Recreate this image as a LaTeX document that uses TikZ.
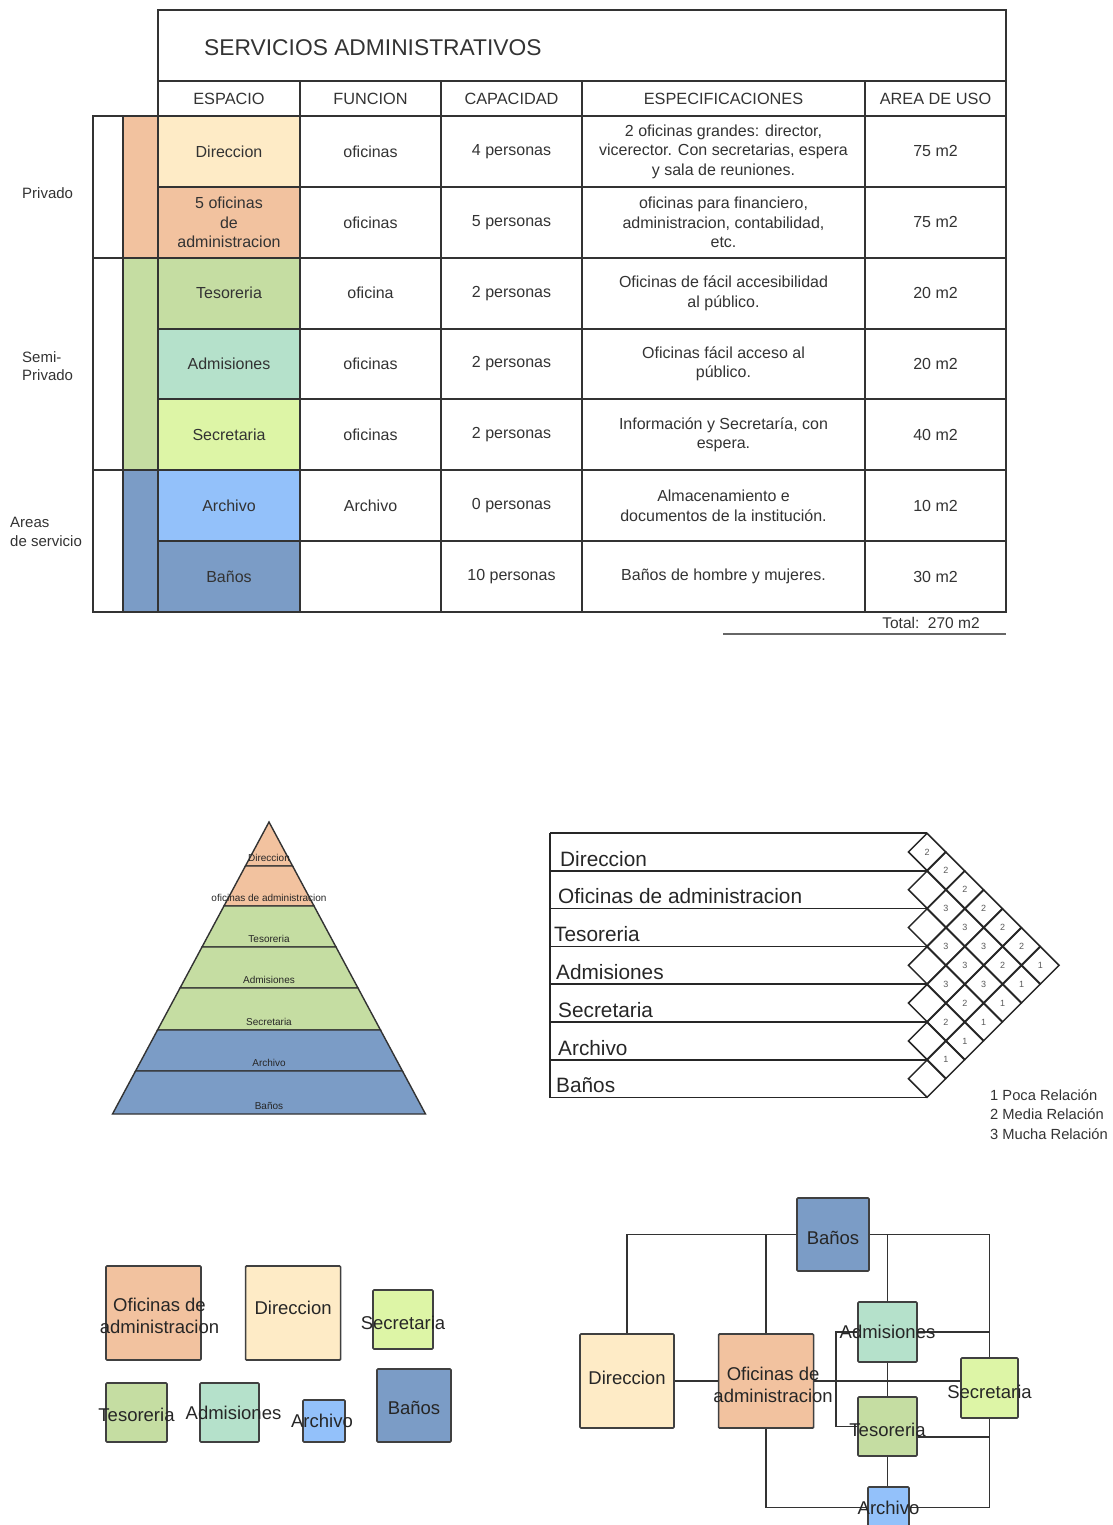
\documentclass[tikz,border=0pt]{standalone}
\usepackage{fontspec}
\setmainfont{Liberation Sans}
\usetikzlibrary{positioning,shapes.geometric}

\definecolor{dircol}{HTML}{FEEBC6}
\definecolor{oficol}{HTML}{F2C29F}
\definecolor{tescol}{HTML}{C5DDA2}
\definecolor{admcol}{HTML}{B5E1CB}
\definecolor{seccol}{HTML}{DDF5A6}
\definecolor{arccol}{HTML}{93C1FA}
\definecolor{bancol}{HTML}{7B9CC6}
\definecolor{ink}{HTML}{333333}

\tikzstyle{tline} = [draw=ink, line width=1.9pt]
\tikzstyle{cell} = [align=center, text=ink, inner sep=0pt, font=\fontsize{16}{19.5}\selectfont]
\tikzstyle{room} = [draw=black!75, line width=1.6pt, rounded corners=1pt, inner sep=0pt]
\tikzstyle{roomtext} = [align=center, text=black!85, inner sep=0pt, font=\fontsize{18.5}{22}\selectfont]
\tikzstyle{link} = [draw=black!80, line width=1.8pt]

\begin{document}
\begin{tikzpicture}[x=1pt, y=-1pt]
    % Define styles for the smaller parts
    \tikzstyle{spec} = [cell, font=\fontsize{16}{19.5}\selectfont]
    \tikzstyle{side} = [anchor=west, align=left, text=ink, inner sep=0pt, font=\fontsize{15}{18.5}\selectfont]
    \tikzstyle{pyrtext} = [text=black!85, inner sep=0pt, font=\fontsize{10}{12}\selectfont]
    \tikzstyle{relrow} = [anchor=base west, text=black!85, inner sep=0pt, font=\fontsize{20.8}{24}\selectfont]
    \tikzstyle{relcell} = [diamond, aspect=1, draw=black!85, line width=1.5pt, minimum width=37.8pt, minimum height=37.8pt, inner sep=0pt]
    \tikzstyle{relnum} = [text=black!65, inner sep=0pt, font=\fontsize{9}{10}\selectfont]
    \tikzstyle{legend} = [anchor=west, text=ink, inner sep=0pt, font=\fontsize{14.7}{16}\selectfont]

    \useasboundingbox (0,0) rectangle (1112,1525);

    % Table fills
    \foreach \c [count=\i from 0] in {dircol,oficol,tescol,admcol,seccol,arccol,bancol}
        \fill[\c] (158,116+\i*70.857) rectangle (300,116+\i*70.857+70.857);
    \fill[oficol] (123,116) rectangle (158,257.7);
    \fill[tescol] (123,257.7) rectangle (158,470.3);
    \fill[bancol] (123,470.3) rectangle (158,612);

    % Table lines
    \draw[tline] (158,10) rectangle (1006,612);
    \draw[tline] (158,81) -- (1006,81);
    \foreach \x in {300,441,582,865} \draw[tline] (\x,81) -- (\x,612);
    \foreach \i in {0,...,6} \draw[tline] (158,116+\i*70.857) -- (1006,116+\i*70.857);
    \draw[tline] (93,116) rectangle (158,612);
    \draw[tline] (123,116) -- (123,612);
    \draw[tline] (93,257.7) -- (158,257.7);
    \draw[tline] (93,470.3) -- (158,470.3);
    \draw[draw=black!60, line width=2.2pt] (723,634) -- (1006,634);

    % Place nodes
    \node[anchor=west, text=ink, inner sep=0pt, font=\fontsize{22.8}{26}\selectfont] (title) at (204,48) {SERVICIOS ADMINISTRATIVOS};
    \node[cell, font=\fontsize{16.3}{19.5}\selectfont] (hesp) at (229,99) {ESPACIO};
    \node[cell, font=\fontsize{16.3}{19.5}\selectfont] (hfun) at (370.5,99) {FUNCION};
    \node[cell, font=\fontsize{16.3}{19.5}\selectfont] (hcap) at (511.5,99) {CAPACIDAD};
    \node[cell, font=\fontsize{16.3}{19.5}\selectfont] (hspec) at (723.5,99) {ESPECIFICACIONES};
    \node[cell, font=\fontsize{16.3}{19.5}\selectfont] (harea) at (935.5,99) {AREA DE USO};

    \foreach \esp/\fun/\cap/\spec/\area [count=\i from 0] in {
        Direccion/oficinas/4 personas/{2 oficinas grandes: director,\\vicerector. Con secretarias, espera\\y sala de reuniones.}/75 m2,
        {5 oficinas\\de\\administracion}/oficinas/5 personas/{oficinas para financiero,\\administracion, contabilidad,\\etc.}/75 m2,
        Tesoreria/oficina/2 personas/{Oficinas de fácil accesibilidad\\al público.}/20 m2,
        Admisiones/oficinas/2 personas/{Oficinas fácil acceso al\\público.}/20 m2,
        Secretaria/oficinas/2 personas/{Información y Secretaría, con\\espera.}/40 m2,
        Archivo/Archivo/0 personas/{Almacenamiento e\\documentos de la institución.}/10 m2,
        Baños//10 personas/{Baños de hombre y mujeres.}/30 m2}
    {
        \pgfmathsetmacro\ym{116+(\i+0.5)*70.857}
        \node[cell] (esp\i) at (229,\ym) {\esp};
        \node[cell] (fun\i) at (370.5,\ym) {\fun};
        \node[cell] (cap\i) at (511.5,\ym) {\cap};
        \node[spec] (spec\i) at (723.5,\ym) {\spec};
        \node[cell] (area\i) at (935.5,\ym) {\area};
    }
    \node[cell, font=\fontsize{15.5}{17}\selectfont] (total) at (931,623) {Total:\ \ 270 m2};

    \node[side] (priv) at (22,193) {Privado};
    \node[side] (semi) at (22,366) {Semi-\\Privado};
    \node[side] (serv) at (10,532) {Areas\\de servicio};

    % Pyramid
    \foreach \ya/\yb/\c/\lab [count=\i] in {822/866/oficol/Direccion, 866/906/oficol/oficinas de administracion,
        906/947/tescol/Tesoreria, 947/988/tescol/Admisiones, 988/1030/tescol/Secretaria,
        1030/1071/bancol/Archivo, 1071/1114/bancol/Baños}
    {
        \pgfmathsetmacro\wa{(\ya-822)/292*156.5}
        \pgfmathsetmacro\wb{(\yb-822)/292*156.5}
        \filldraw[fill=\c, draw=black!80, line width=1.4pt] (269-\wa,\ya) -- (269+\wa,\ya) -- (269+\wb,\yb) -- (269-\wb,\yb) -- cycle;
        \node[pyrtext] (pyr\i) at (269,\yb-8) {\lab};
    }

    % Relation matrix
    \foreach \j in {0,...,7} \draw[draw=black!85, line width=1.6pt] (550,833+\j*37.8) -- (927,833+\j*37.8);
    \draw[draw=black!85, line width=1.6pt] (550,833) -- (550,1097.6);
    \foreach \lab/\xl [count=\i from 0] in {Direccion/560, Oficinas de administracion/558, Tesoreria/554,
        Admisiones/556, Secretaria/558, Archivo/558, Baños/556}
        \node[relrow] (rel\i) at (\xl,866+\i*37.8) {\lab};
    \foreach \k in {0,...,6} {
        \pgfmathtruncatemacro\n{6-\k}
        \foreach \i in {0,...,\n}
            \node[relcell] (c\k\i) at (927+\k*18.9,851.9+\i*37.8+\k*18.9) {};
    }
    \node[relnum] (n00) at (c00) {2};
    \foreach \k/\vals in {1/{2,3,3,3,2,1}, 2/{2,3,3,2,1}, 3/{2,3,3,1}, 4/{2,2,1}, 5/{2,1}, 6/{1}}
        \foreach \v [count=\i from 0] in \vals
            \node[relnum] (n\k\i) at (c\k\i) {\v};

    \node[legend] (leg1) at (990,1095) {1 Poca Relación};
    \node[legend] (leg2) at (990,1114.5) {2 Media Relación};
    \node[legend] (leg3) at (990,1134) {3 Mucha Relación};

    % Rooms without links
    \node[room, fill=oficol, minimum width=95pt, minimum height=94pt,
        label={[roomtext, xshift=6pt, yshift=-3pt]center:Oficinas de\\administracion}] (bofi) at (153.5,1313) {};
    \node[room, fill=dircol, minimum width=95pt, minimum height=94pt,
        label={[roomtext, yshift=5pt]center:Direccion}] (bdir) [right=43pt of bofi] {};
    \node[room, fill=seccol, minimum width=60pt, minimum height=59pt,
        label={[roomtext, yshift=-3pt]center:Secretaria}] (bsec) at (403,1319.5) {};
    \node[room, fill=tescol, minimum width=61pt, minimum height=59pt,
        label={[roomtext, yshift=-2pt]center:Tesoreria}] (btes) at (136.5,1412.5) {};
    \node[room, fill=admcol, minimum width=59pt, minimum height=59pt,
        label={[roomtext, xshift=4pt]center:Admisiones}] (badm) at (229.5,1412.5) {};
    \node[room, fill=arccol, minimum width=42pt, minimum height=42pt,
        label={[roomtext, xshift=-2pt]center:Archivo}] (barc) at (324,1421) {};
    \node[room, fill=bancol, minimum width=74pt, minimum height=73pt,
        label={[roomtext, yshift=-2pt]center:Baños}] (bban) at (414,1405.5) {};

    % Rooms with links
    \node[room, fill=bancol, minimum width=72pt, minimum height=73pt,
        label={[roomtext, yshift=-3pt]center:Baños}] (rban) at (833,1234.5) {};
    \node[room, fill=dircol, minimum width=94pt, minimum height=94pt,
        label={[roomtext, yshift=3pt]center:Direccion}] (rdir) at (627,1381) {};
    \node[room, fill=oficol, minimum width=95pt, minimum height=94pt] (rofi) [right=43pt of rdir] {};
    \node[room, fill=admcol, minimum width=59pt, minimum height=60pt] (radm) at (887.5,1332) {};
    \node[room, fill=seccol, minimum width=57pt, minimum height=60pt] (rsec) at (989.5,1388) {};
    \node[room, fill=tescol, minimum width=59pt, minimum height=59pt] (rtes) at (887.5,1426.5) {};
    \node[room, fill=arccol, minimum width=41pt, minimum height=41pt] (rarc) at (888.5,1507.5) {};

    % Draw edges
    \path[link] (rdir.north) |- (rban.west);
    \path[link] (rofi.north) -- (rofi.north |- rban.west);
    \path[link] (rban.east) -| (rsec.north);
    \path[link] (radm.north) -- (radm.north |- rban.east);
    \path[link] (radm.east) -- (radm.east -| rsec.north);
    \path[link] ([yshift=-10.5pt]rtes.east) -- ([yshift=-10.5pt]rtes.east -| rsec.south);
    \path[link] (rsec.south) |- (rarc.east);
    \path[link] (rofi.south) |- (rarc.west);
    \path[link] (rdir.east) -- (rofi.west);
    \path[link] (rofi.east) -- (rofi.east -| rsec.west);
    \path[link] (radm.south) -- (rtes.north);
    \path[link] (rtes.south) -- (rtes.south |- rarc.north);
    \path[link] (radm.west) -- ++(-21,0) |- (rtes.west);

    % Texts over the links
    \node[roomtext, xshift=7pt, yshift=-4pt] (tofi) at (rofi) {Oficinas de\\administracion};
    \node[roomtext] (tadm) at (radm) {Admisiones};
    \node[roomtext, yshift=-4pt] (tsec) at (rsec) {Secretaria};
    \node[roomtext, yshift=-3pt] (ttes) at (rtes) {Tesoreria};
    \node[roomtext] (tarc) at (rarc) {Archivo};
\end{tikzpicture}
\end{document}
